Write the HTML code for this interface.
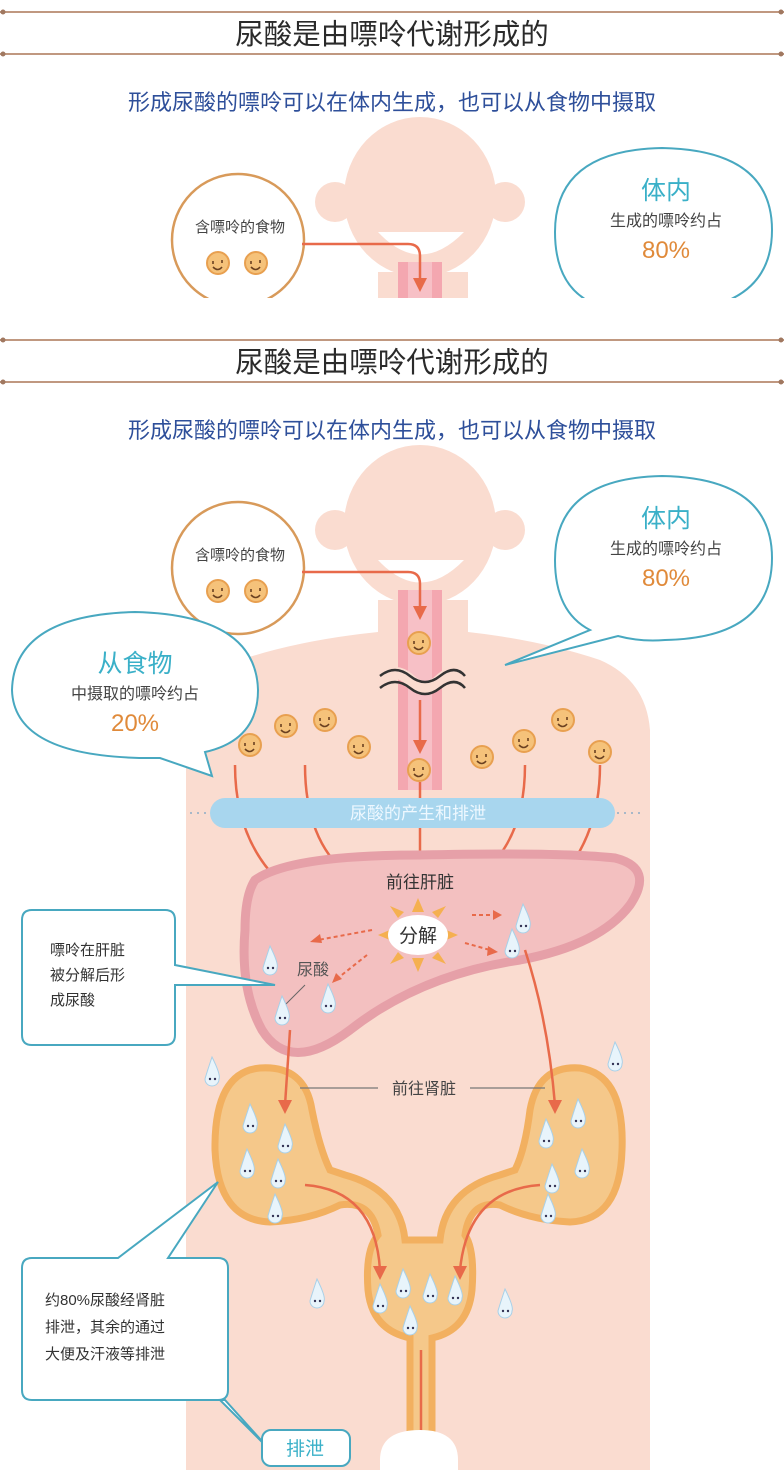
<!DOCTYPE html>
<html><head><meta charset="utf-8"><style>
html,body{margin:0;padding:0;background:#fff}
svg{display:block}
text{font-family:"Liberation Sans","Noto Sans CJK SC",sans-serif}
</style></head><body>
<svg width="784" height="1470" viewBox="0 0 784 1470" xmlns="http://www.w3.org/2000/svg">
<defs>
<clipPath id="topclip"><rect x="0" y="0" width="784" height="298"/></clipPath>
<g id="smile">
<circle r="11" fill="#f5c27a" stroke="#e8a050" stroke-width="2"/>
<path d="M-5,-2 v3 M4,-3 v3 M-5,4 q5,5 9,0" stroke="#6a4020" stroke-width="1.6" fill="none"/>
</g>
<g id="drop">
<path d="M0,-16 Q9,2 7,6 A7,7 0 1 1 -7,6 Q-6,2 0,-16Z" fill="#e8f4fb" stroke="#a8d0e8" stroke-width="1"/>
<circle cx="-2" cy="6" r="1.2" fill="#335"/><circle cx="3" cy="6" r="1.2" fill="#335"/>
</g>
<g id="headsec">
<line x1="0" y1="340" x2="784" y2="340" stroke="#c09880" stroke-width="2"/>
<line x1="0" y1="382" x2="784" y2="382" stroke="#c09880" stroke-width="2"/>
<circle cx="3" cy="340" r="2.5" fill="#a07860"/><circle cx="781" cy="340" r="2.5" fill="#a07860"/>
<circle cx="3" cy="382" r="2.5" fill="#a07860"/><circle cx="781" cy="382" r="2.5" fill="#a07860"/>
<text x="392" y="372" font-size="28.5" text-anchor="middle" fill="#2a2a2a">尿酸是由嘌呤代谢形成的</text>
<text x="392" y="438" font-size="22" text-anchor="middle" fill="#2e4f9a">形成尿酸的嘌呤可以在体内生成，也可以从食物中摄取</text>
<path d="M378,600 L378,632 Q300,640 240,660 Q190,680 186,730 L186,1470 L650,1470 L650,730 Q646,680 600,660 Q540,640 468,632 L468,600Z" fill="#fadcd0"/>
<circle cx="335" cy="530" r="20" fill="#fadcd0"/><circle cx="505" cy="530" r="20" fill="#fadcd0"/>
<ellipse cx="420" cy="525" rx="76" ry="80" fill="#fadcd0"/>
<path d="M378,560 Q420,605 464,560Z" fill="#fff"/>
<rect x="398" y="590" width="44" height="200" fill="#f4a7b0"/>
<rect x="408" y="590" width="24" height="200" fill="#f7c0c6"/>
<path d="M380,680 q15,-14 30,0 t30,0 t25,0" stroke="#fadcd0" stroke-width="12" fill="none"/>
<path d="M380,676 q15,-12 30,0 t30,0 t25,0" stroke="#333" stroke-width="2.5" fill="none"/>
<path d="M380,688 q15,-12 30,0 t30,0 t25,0" stroke="#333" stroke-width="2.5" fill="none"/>
<circle cx="238" cy="568" r="66" fill="#fff" stroke="#d89a5a" stroke-width="2.5"/>
<text x="240" y="560" font-size="15" text-anchor="middle" fill="#444">含嘌呤的食物</text>
<use href="#smile" x="218" y="591"/><use href="#smile" x="256" y="591"/>
<path d="M302,572 H408 Q420,572 420,584 V612" stroke="#e86a4a" stroke-width="2.5" fill="none"/>
<path d="M413,606 L420,620 L427,606Z" fill="#e86a4a"/>
<use href="#smile" x="419" y="643"/>
<path d="M590,630 Q555,612 555,560 Q555,478 662,476 Q772,478 772,558 Q772,638 665,640 Q640,642 618,636 L505,665 Z" fill="#fff" stroke="#48a8c0" stroke-width="2"/>
<text x="666" y="527" font-size="25" text-anchor="middle" fill="#3ab0c8">体内</text>
<text x="666" y="554" font-size="16" text-anchor="middle" fill="#444">生成的嘌呤约占</text>
<text x="666" y="586" font-size="24" text-anchor="middle" fill="#e08a3a">80%</text>
</g>
</defs>

<g clip-path="url(#topclip)"><use href="#headsec" transform="translate(0,-328)"/></g>
<use href="#headsec"/>

<path d="M160,758 Q14,760 12,690 Q14,615 135,612 Q256,615 258,690 Q258,740 205,752 L212,776 Z" fill="#fff" stroke="#48a8c0" stroke-width="2"/>
<text x="135" y="672" font-size="25" text-anchor="middle" fill="#3ab0c8">从食物</text>
<text x="135" y="699" font-size="16" text-anchor="middle" fill="#444">中摄取的嘌呤约占</text>
<text x="135" y="731" font-size="24" text-anchor="middle" fill="#e08a3a">20%</text>

<line x1="420" y1="700" x2="420" y2="745" stroke="#e86a4a" stroke-width="2.5"/>
<path d="M413,740 L420,754 L427,740Z" fill="#e86a4a"/>
<use href="#smile" x="419" y="770"/>
<use href="#smile" x="250" y="745"/><use href="#smile" x="286" y="726"/><use href="#smile" x="325" y="720"/><use href="#smile" x="359" y="747"/>
<use href="#smile" x="482" y="757"/><use href="#smile" x="524" y="741"/><use href="#smile" x="563" y="720"/><use href="#smile" x="600" y="752"/>

<g stroke="#e86a4a" stroke-width="2.5" fill="none">
<path d="M235,765 Q235,850 295,895"/>
<path d="M305,765 Q305,840 348,875"/>
<path d="M420,782 V860"/>
<path d="M525,765 Q525,840 480,875"/>
<path d="M600,765 Q600,860 525,908"/>
</g>
<g fill="#e86a4a">
<path d="M286,898 L302,900 L296,886Z"/><path d="M338,880 L354,880 L345,868Z"/>
<path d="M413,853 L420,866 L427,853Z"/><path d="M472,868 L482,882 L490,870Z"/>
<path d="M515,902 L530,908 L522,895Z"/>
</g>

<line x1="190" y1="813" x2="645" y2="813" stroke="#a8b8c8" stroke-width="2" stroke-dasharray="2,5"/>
<rect x="210" y="798" width="405" height="30" rx="15" fill="#a8d6ee"/>
<text x="418" y="819" font-size="17" text-anchor="middle" fill="#eef8ff">尿酸的产生和排泄</text>

<path d="M255,880 Q290,855 420,855 Q560,852 615,858 Q655,868 630,905 Q600,945 520,960 Q420,975 350,1030 Q290,1075 262,1030 Q240,990 245,930 Q245,895 255,880Z" fill="#f3c0c0" stroke="#e6a0a8" stroke-width="9"/>
<text x="420" y="888" font-size="17" text-anchor="middle" fill="#333">前往肝脏</text>
<g fill="#f5b050">
<path d="M418,898 l6,14 l-12,0Z M418,972 l6,-14 l-12,0Z M378,935 l14,6 l0,-12Z M458,935 l-14,6 l0,-12Z M390,906 l14,6 l-6,6Z M446,906 l-14,6 l6,6Z M390,964 l14,-6 l-6,-6Z M446,964 l-14,-6 l6,-6Z"/>
</g>
<ellipse cx="418" cy="935" rx="30" ry="20" fill="#fff"/>
<text x="418" y="942" font-size="19" text-anchor="middle" fill="#333">分解</text>
<g stroke="#e86a4a" stroke-width="2" stroke-dasharray="4,3" fill="none">
<path d="M372,930 L318,940"/><path d="M367,955 L338,978"/><path d="M472,915 L495,915"/><path d="M465,943 L490,950"/>
</g>
<g fill="#e86a4a"><path d="M310,942 l10,-8 l2,9Z"/><path d="M332,983 l4,-10 l6,6Z"/><path d="M502,915 l-9,-5 l0,10Z"/><path d="M498,952 l-10,-6 l-1,10Z"/></g>
<text x="313" y="975" font-size="16" text-anchor="middle" fill="#555">尿酸</text>
<line x1="305" y1="985" x2="285" y2="1005" stroke="#666" stroke-width="1"/>
<use href="#drop" x="270" y="962"/><use href="#drop" x="282" y="1012"/><use href="#drop" x="328" y="1000"/>
<use href="#drop" x="523" y="920"/><use href="#drop" x="512" y="945"/>
<use href="#drop" x="212" y="1073"/><use href="#drop" x="615" y="1058"/>

<path d="M22,920 Q22,910 32,910 H165 Q175,910 175,920 V965 L275,985 L175,985 V1035 Q175,1045 165,1045 H32 Q22,1045 22,1035Z" fill="#fff" stroke="#48a8c0" stroke-width="2"/>
<text x="50" y="955" font-size="15" fill="#333">嘌呤在肝脏</text>
<text x="50" y="980" font-size="15" fill="#333">被分解后形</text>
<text x="50" y="1005" font-size="15" fill="#333">成尿酸</text>

<g fill="#f5c88a" stroke="#f2b060" stroke-width="7">
<path d="M260,1068 Q305,1065 312,1110 Q320,1150 330,1170 L345,1175 Q400,1190 405,1240 L440,1240 Q445,1190 500,1175 L515,1170 Q525,1150 530,1110 Q538,1065 580,1068 Q625,1075 622,1150 Q620,1220 570,1222 Q530,1220 500,1205 Q470,1200 465,1235 Q475,1250 472,1290 Q468,1330 432,1338 L432,1440 L410,1440 L410,1338 Q372,1330 368,1290 Q365,1250 378,1235 Q372,1200 340,1205 Q310,1220 270,1222 Q218,1220 215,1150 Q214,1072 260,1068Z"/>
</g>
<g stroke="#e86a4a" stroke-width="2.5" fill="none">
<path d="M290,1030 L285,1105"/><path d="M525,950 Q548,1020 555,1105"/>
<path d="M305,1185 Q375,1190 380,1270"/><path d="M540,1185 Q468,1190 460,1270"/>
<path d="M421,1350 V1440"/>
</g>
<g fill="#e86a4a"><path d="M278,1100 l7,14 l7,-14Z"/><path d="M548,1100 l7,14 l7,-14Z"/><path d="M373,1266 l7,14 l7,-14Z"/><path d="M453,1266 l7,14 l7,-14Z"/></g>
<line x1="300" y1="1088" x2="378" y2="1088" stroke="#777" stroke-width="1.2"/>
<line x1="470" y1="1088" x2="545" y2="1088" stroke="#777" stroke-width="1.2"/>
<text x="424" y="1094" font-size="16" text-anchor="middle" fill="#444">前往肾脏</text>
<use href="#drop" x="250" y="1120"/><use href="#drop" x="285" y="1140"/><use href="#drop" x="247" y="1165"/><use href="#drop" x="278" y="1175"/><use href="#drop" x="275" y="1210"/>
<use href="#drop" x="578" y="1115"/><use href="#drop" x="546" y="1135"/><use href="#drop" x="582" y="1165"/><use href="#drop" x="552" y="1180"/><use href="#drop" x="548" y="1210"/>
<use href="#drop" x="380" y="1300"/><use href="#drop" x="403" y="1285"/><use href="#drop" x="430" y="1290"/><use href="#drop" x="455" y="1292"/><use href="#drop" x="410" y="1322"/>
<use href="#drop" x="317" y="1295"/><use href="#drop" x="505" y="1305"/>

<path d="M32,1258 H118 L218,1182 L168,1258 H218 Q228,1258 228,1268 V1390 Q228,1400 218,1400 H225 L270,1450 L220,1400 H32 Q22,1400 22,1390 V1268 Q22,1258 32,1258Z" fill="#fff" stroke="#48a8c0" stroke-width="2"/>
<text x="45" y="1305" font-size="15" fill="#333">约80%尿酸经肾脏</text>
<text x="45" y="1332" font-size="15" fill="#333">排泄，其余的通过</text>
<text x="45" y="1359" font-size="15" fill="#333">大便及汗液等排泄</text>
<rect x="262" y="1430" width="88" height="36" rx="9" fill="#fff" stroke="#48a8c0" stroke-width="2"/>
<text x="305" y="1455" font-size="19" text-anchor="middle" fill="#3ab0c8">排泄</text>
<path d="M380,1470 V1460 Q380,1430 420,1430 Q458,1430 458,1460 V1470Z" fill="#fff"/>
</svg>
</body></html>
